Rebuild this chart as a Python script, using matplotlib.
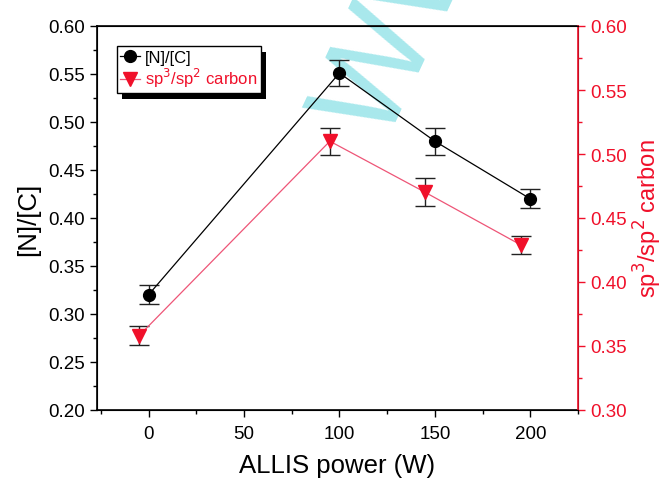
import matplotlib
matplotlib.use("Agg")
import matplotlib.pyplot as plt
from matplotlib.ticker import MultipleLocator
from matplotlib.lines import Line2D
from matplotlib.patches import Rectangle

plt.rcParams['font.family'] = ['Liberation Sans', 'DejaVu Sans']

power_nc = [0, 100, 150, 200]
nc_ratio = [0.32, 0.551, 0.480, 0.420]
nc_err = [0.0097, 0.014, 0.014, 0.010]

power_sp = [-5, 95, 145, 195]
sp_ratio = [0.358, 0.510, 0.470, 0.429]
sp_err = [0.0073, 0.0105, 0.011, 0.0072]

RED = '#f0102a'
PINK = '#ee5577'

W, H = 663, 481
fig = plt.figure(figsize=(W/100, H/100), dpi=100)
ax = fig.add_axes([97/W, 1-411/H, (578-97)/W, (411-27)/H])
ax2 = ax.twinx()

# watermark
ax.text(405/W, 1-20/H, 'WW', transform=fig.transFigure, rotation=65,
        ha='center', va='center', fontsize=94, fontweight='normal',
        color='#a8e8ec', zorder=0.5, clip_on=False)

ax.errorbar(power_nc, nc_ratio, yerr=nc_err, color='black', marker='o', ms=8.5,
            lw=0.9, ecolor='#222222', elinewidth=1.0, capsize=7.5, capthick=1.0,
            zorder=3)
ax2.errorbar(power_sp, sp_ratio, yerr=sp_err, color=PINK, marker='v', ms=10,
             mfc=RED, mec=RED, lw=0.9, ecolor='#222222', elinewidth=1.0,
             capsize=7.5, capthick=1.0, zorder=3)

ax.set_xlim(-27, 225)
ax.set_ylim(0.20, 0.60)
ax2.set_ylim(0.30, 0.60)

ax.xaxis.set_major_locator(MultipleLocator(50))
ax.xaxis.set_minor_locator(MultipleLocator(25))
ax.yaxis.set_major_locator(MultipleLocator(0.05))
ax.yaxis.set_minor_locator(MultipleLocator(0.025))
ax2.yaxis.set_major_locator(MultipleLocator(0.05))
ax2.yaxis.set_minor_locator(MultipleLocator(0.025))

ax.yaxis.set_major_formatter(plt.FormatStrFormatter('%.2f'))
ax2.yaxis.set_major_formatter(plt.FormatStrFormatter('%.2f'))

ax.tick_params(which='major', direction='out', length=5, width=1, labelsize=13.5)
ax.tick_params(which='minor', direction='out', length=3, width=1)
ax.tick_params(axis='x', which='major', pad=6)
ax2.tick_params(which='major', direction='out', length=5, width=1, labelsize=13.5,
                colors=RED)
ax2.tick_params(which='minor', direction='out', length=3, width=1, colors=RED)
ax2.spines['right'].set_color(RED)
for s in ['left', 'bottom', 'top']:
    ax.spines[s].set_linewidth(1.2)
ax2.spines['right'].set_linewidth(1.2)

ax.set_xlabel('ALLIS power (W)', fontsize=18.5, labelpad=8)
ax.set_ylabel('[N]/[C]', fontsize=18.5, labelpad=6)
ax2.set_ylabel('sp$^3$/sp$^2$ carbon', fontsize=17, color=RED, labelpad=4)

h1 = Line2D([], [], color='black', marker='o', ms=8.5, lw=0.9)
h2 = Line2D([], [], color=PINK, marker='v', ms=10, mfc=RED, mec=RED, lw=0.9)
leg = ax2.legend(handles=[h1, h2], labels=['[N]/[C]', 'sp$^3$/sp$^2$ carbon'],
                 loc='upper left', bbox_to_anchor=(20/481, 1-20.3/384),
                 fontsize=12, frameon=True, fancybox=False, shadow=False,
                 framealpha=1, facecolor='white',
                 edgecolor='black', handlelength=1.2, borderpad=0.2,
                 labelspacing=0.1, handletextpad=0.3, borderaxespad=0)
leg.get_frame().set_linewidth(1.0)
leg.get_texts()[1].set_color(RED)
leg.set_zorder(10)

fig.canvas.draw()
bb = leg.get_window_extent()
shadow = Rectangle((bb.x0 + 5, bb.y0 - 6), bb.width, bb.height,
                   transform=None, facecolor='black', edgecolor='none', zorder=9)
ax2.add_artist(shadow)

fig.savefig('out.png', dpi=100)
